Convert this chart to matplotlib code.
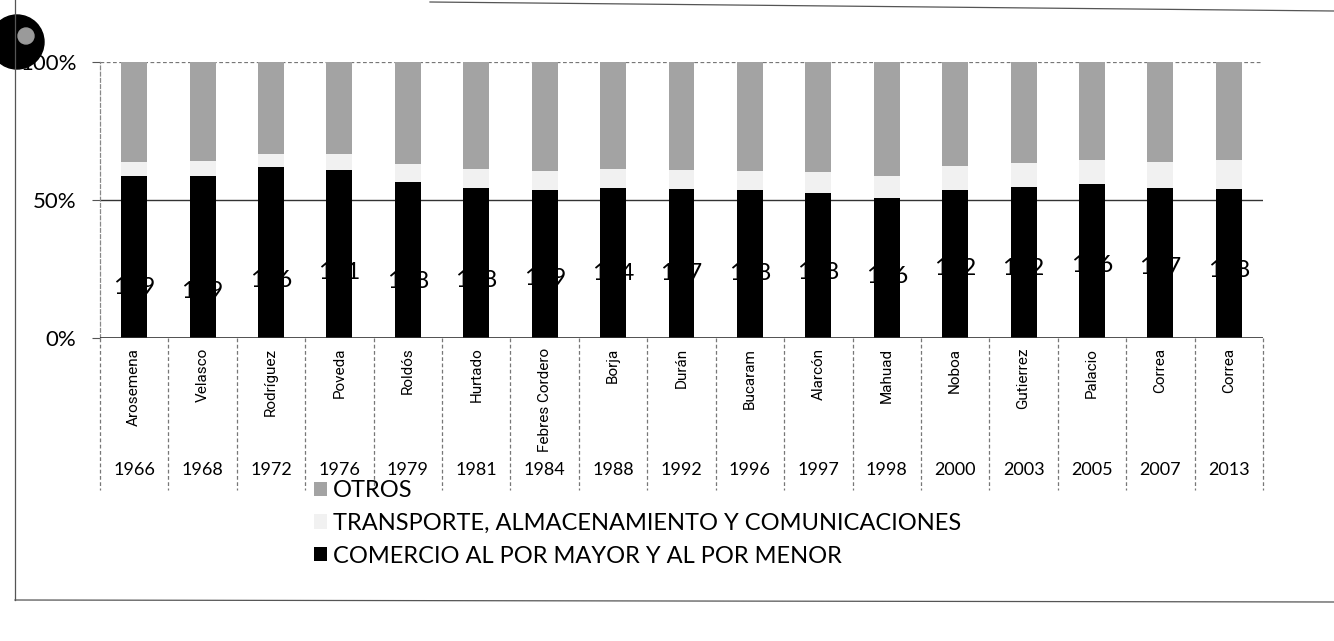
import numpy as np
import matplotlib
matplotlib.use("Agg")
import matplotlib.pyplot as plt
from matplotlib.lines import Line2D
from matplotlib.patches import Ellipse
from matplotlib.ticker import FuncFormatter
import matplotlib.transforms as mtransforms

# --- data (100% stacked) ---
presidentes = ["Arosemena", "Velasco", "Rodríguez", "Poveda", "Roldós", "Hurtado",
               "Febres Cordero", "Borja", "Durán", "Bucaram", "Alarcón", "Mahuad",
               "Noboa", "Gutierrez", "Palacio", "Correa", "Correa"]
anios = ["1966", "1968", "1972", "1976", "1979", "1981", "1984", "1988", "1992",
         "1996", "1997", "1998", "2000", "2003", "2005", "2007", "2013"]

comercio = [58.6, 58.8, 61.9, 60.7, 56.5, 54.5, 53.8, 54.3, 54.1, 53.7, 52.6,
            50.9, 53.7, 54.6, 55.9, 54.5, 54.0]
transporte = [5.0, 5.2, 4.8, 5.8, 6.7, 6.6, 6.7, 6.9, 6.9, 6.7, 7.7, 7.8, 8.5,
              8.8, 8.7, 9.1, 10.6]
otros = [36.4, 36.0, 33.3, 33.5, 36.8, 38.9, 39.5, 38.8, 39.0, 39.6, 39.7, 41.3,
         37.8, 36.6, 35.4, 36.4, 35.4]

# data labels sitting on the black bars (middle digit hidden by the bar)
etiquetas = ["109", "109", "106", "101", "108", "108", "109", "104", "107", "108",
             "108", "106", "102", "102", "106", "107", "108"]
etiqueta_pos = [18.4, 17.0, 21.0, 23.9, 20.6, 21.0, 21.4, 23.2, 23.5, 23.5, 23.9,
                22.4, 25.0, 25.0, 26.4, 25.7, 24.3]

W, H = 1334, 641
fig = plt.figure(figsize=(W / 100, H / 100), dpi=100)
ax = fig.add_axes([100 / W, 1 - 338 / H, 1163 / W, 276 / H])

x = np.arange(len(presidentes))
com = np.array(comercio)
tra = np.array(transporte)
otr = np.array(otros)

ancho = 0.38
b1 = ax.bar(x, com, ancho, color="black", zorder=3,
            label="COMERCIO AL POR MAYOR Y AL POR MENOR")
b2 = ax.bar(x, tra, ancho, bottom=com, color="#f1f1f1", zorder=3,
            label="TRANSPORTE, ALMACENAMIENTO Y COMUNICACIONES")
b3 = ax.bar(x, otr, ancho, bottom=com + tra, color="#a3a3a3", zorder=3,
            label="OTROS")

for xi, txt, yp in zip(x, etiquetas, etiqueta_pos):
    ax.text(xi, yp, txt, ha="center", va="center", fontsize=17.5,
            family=["Lato", "DejaVu Sans"], color="black", zorder=2)

ax.set_xlim(-0.5, len(x) - 0.5)
ax.set_ylim(0, 100)
ax.set_yticks([0, 50, 100])
ax.yaxis.set_major_formatter(FuncFormatter(lambda v, p: f"{v:.0f}%"))
ax.tick_params(axis="y", length=6, color="#555555", pad=11, labelsize=16)
for lab in ax.get_yticklabels():
    lab.set_family(["Lato", "DejaVu Sans"])
ax.set_xticks([])

ax.axhline(50, color="#333333", lw=1.0, zorder=1)
ax.axhline(100, color="#777777", lw=0.9, ls=(0, (3, 2)), zorder=1)
ax.axhline(0, color="#333333", lw=1.2, zorder=4)

for s in ["top", "right", "bottom"]:
    ax.spines[s].set_visible(False)
ax.spines["left"].set_color("#888888")
ax.spines["left"].set_linestyle((0, (3, 2)))
ax.spines["left"].set_linewidth(0.9)

# category table under the axis
trans = mtransforms.blended_transform_factory(ax.transData, ax.transAxes)
for xi, nom, an in zip(x, presidentes, anios):
    ax.text(xi, -0.035, nom, rotation=90, ha="center", va="top", fontsize=11,
            family=["Roboto", "DejaVu Sans"], transform=trans, clip_on=False)
    ax.text(xi, -0.48, an, ha="center", va="center", fontsize=13,
            family=["Lato", "DejaVu Sans"], transform=trans, clip_on=False)
for xb in np.arange(-0.5, len(x), 1.0):
    ax.add_line(Line2D([xb, xb], [0, -0.55], transform=trans, clip_on=False,
                       color="#777777", lw=0.9, ls=(0, (3, 2))))

# legend (reverse order like the original)
leg = fig.legend(handles=[b3, b2, b1], loc="upper left",
                 bbox_to_anchor=(314 / W, 1 - 480 / H), frameon=False,
                 handlelength=0.55, handleheight=0.55, handletextpad=0.25,
                 labelspacing=0.5, borderaxespad=0, borderpad=0,
                 prop={"family": ["Lato", "DejaVu Sans"], "size": 17})

# chart frame of the scanned page + punch hole
frame = dict(color="#555555", lw=0.9)
fig.add_artist(Line2D([15 / W, 15 / W], [1 - 600 / H, 1], **frame))
fig.add_artist(Line2D([15 / W, 1], [1 - 600 / H, 1 - 602 / H], **frame))
fig.add_artist(Line2D([430 / W, 1], [1 - 2 / H, 1 - 11 / H], **frame))
fig.add_artist(Ellipse((17 / W, 1 - 42 / H), 54 / W, 54 / H, color="black"))
fig.add_artist(Ellipse((26 / W, 1 - 36 / H), 16 / W, 16 / H, color="#9a9a9a"))

fig.savefig("out.png", dpi=100)
